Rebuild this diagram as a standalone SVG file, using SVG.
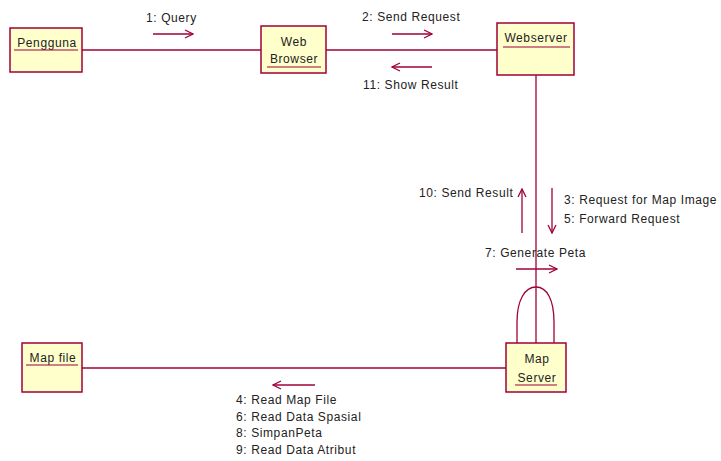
<svg xmlns="http://www.w3.org/2000/svg" width="721" height="461" viewBox="0 0 721 461">
  <style>
    .obj rect { fill: #FFFFCC; stroke: #A0003A; stroke-width: 1.5; }
    .obj line { stroke: #A0003A; stroke-width: 1.2; }
    .link { stroke: #A0003A; stroke-width: 1.3; fill: none; }
    .msg { stroke: #A0003A; stroke-width: 1.3; fill: none; marker-end: url(#open); }
    text { font-family: "Liberation Sans", Arial, sans-serif; font-size: 12px; fill: #222; letter-spacing: 0.6px; }
    .c { text-anchor: middle; }
  </style>
  <defs>
    <marker id="open" viewBox="0 0 10 10" refX="9" refY="5" markerWidth="10" markerHeight="10" markerUnits="userSpaceOnUse" orient="auto">
      <path d="M1,1 L9,5 L1,9" fill="none" stroke="#A0003A" stroke-width="1.3"/>
    </marker>
  </defs>

  <!-- links between objects -->
  <g id="connectors">
    <line class="link" x1="82" y1="50" x2="261" y2="50"/>
    <line class="link" x1="326" y1="50" x2="497" y2="50"/>
    <line class="link" x1="536" y1="75" x2="536" y2="343"/>
    <line class="link" x1="82" y1="368" x2="506" y2="368"/>
    <path class="link" d="M517,343 L517,322 C517,300 525,287 536,287 C547,287 554,300 554,322 L554,343"/>

    <!-- messages -->
    <line class="msg" x1="153" y1="34" x2="193" y2="34"/>
    <text x="146" y="22">1: Query</text>

    <line class="msg" x1="392" y1="34" x2="432" y2="34"/>
    <text x="362" y="21">2: Send Request</text>

    <line class="msg" x1="432" y1="67" x2="392" y2="67"/>
    <text x="363" y="89">11: Show Result</text>

    <line class="msg" x1="522" y1="233" x2="522" y2="189"/>
    <text x="419" y="197">10: Send Result</text>

    <line class="msg" x1="552" y1="188" x2="552" y2="233"/>
    <text x="564" y="204">3: Request for Map Image</text>
    <text x="564" y="223">5: Forward Request</text>

    <line class="msg" x1="516" y1="269" x2="557" y2="269"/>
    <text x="485" y="257">7: Generate Peta</text>

    <line class="msg" x1="315" y1="385" x2="273" y2="385"/>
    <text x="236" y="404">4: Read Map File</text>
    <text x="236" y="421">6: Read Data Spasial</text>
    <text x="236" y="437">8: SimpanPeta</text>
    <text x="236" y="454">9: Read Data Atribut</text>
  </g>

  <g id="pengguna" class="obj">
    <rect x="10" y="28" width="72" height="44"/>
    <text x="47" y="47" class="c">Pengguna</text>
    <line x1="14" y1="50" x2="78" y2="50"/>
  </g>

  <g id="web-browser" class="obj">
    <rect x="261" y="26" width="65" height="47"/>
    <text x="294" y="46" class="c">Web</text>
    <text x="294" y="63" class="c">Browser</text>
    <line x1="267" y1="67" x2="321" y2="67"/>
  </g>

  <g id="webserver" class="obj">
    <rect x="497" y="23" width="77" height="52"/>
    <text x="536" y="42" class="c">Webserver</text>
    <line x1="503" y1="47" x2="570" y2="47"/>
  </g>

  <g id="map-server" class="obj">
    <rect x="506" y="343" width="60" height="49"/>
    <text x="537" y="363" class="c">Map</text>
    <text x="537" y="382" class="c">Server</text>
    <line x1="515" y1="385" x2="557" y2="385"/>
  </g>

  <g id="map-file" class="obj">
    <rect x="22" y="343" width="60" height="49"/>
    <text x="53" y="362" class="c">Map file</text>
    <line x1="26" y1="365" x2="78" y2="365"/>
  </g>
</svg>
